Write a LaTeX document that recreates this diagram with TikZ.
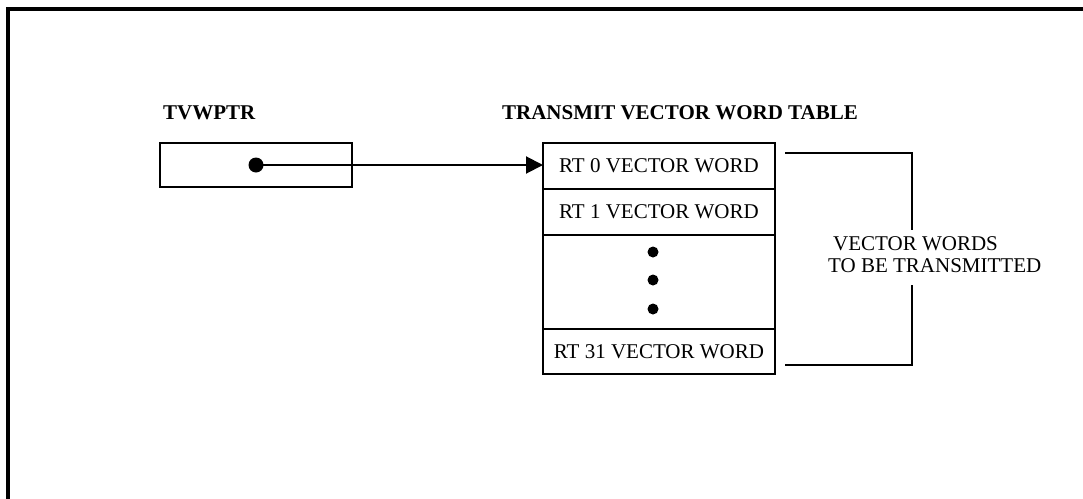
\documentclass[tikz,border=0pt]{standalone}
\usepackage{fontspec}
\setmainfont{Liberation Serif}
\usetikzlibrary{arrows.meta}
\begin{document}
\begin{tikzpicture}[x=1pt,y=-1pt,
  cell/.style={draw,line width=2.5pt,minimum width=232pt,inner sep=0pt,outer sep=0pt,font=\fontsize{21}{24}\selectfont},
  lbl/.style={inner sep=0pt,font=\fontsize{21}{24}\selectfont},
  title/.style={inner sep=0pt,font=\fontsize{21}{24}\selectfont\bfseries},
  conn/.style={line width=2pt},
  dotm/.style={circle,fill=black,inner sep=0pt,minimum size=#1}]
\useasboundingbox (0,0) rectangle (1083,498);
% outer frame
\draw[line width=4.5pt] (8,500) -- (8,9) -- (1085,9);
% titles
\node[title,anchor=west] (tptr) at (163,113) {TVWPTR};
\node[title] (ttab) at (680,113) {TRANSMIT VECTOR WORD TABLE};
% pointer box
\node[draw,line width=2.5pt,minimum width=192pt,minimum height=44pt,inner sep=0pt] (pbox) at (256,165) {};
\node[dotm=15pt] (pdot) at (256,165) {};
% table
\node[cell,minimum height=46pt] (r0) at (659,166) {RT 0 VECTOR WORD};
\node[cell,minimum height=46pt,anchor=north] (r1) at (r0.south) {RT 1 VECTOR WORD};
\node[cell,minimum height=94pt,anchor=north] (rd) at (r1.south) {};
\node[cell,minimum height=45pt,anchor=north] (r31) at (rd.south) {RT 31 VECTOR WORD};
\node[dotm=11pt] (d1) at (653,252) {};
\node[dotm=11pt] (d2) at (653,280) {};
\node[dotm=11pt] (d3) at (653,309) {};
% pointer arrow
\draw[conn,-{Triangle[length=17pt,width=17pt]}] (pdot.center) -- (pdot.center -| r0.west);
% bracket label
\node[lbl,anchor=west] (v1) at (833,244) {VECTOR WORDS};
\node[lbl,anchor=west] (v2) at (828,266) {TO BE TRANSMITTED};
\coordinate (bt) at (785,153);
\coordinate (bb) at (785,365);
\coordinate (bxt) at (912,230);
\coordinate (bxb) at (912,285);
\draw[conn] (bt) -| (bxt);
\draw[conn] (bb) -| (bxb);
\end{tikzpicture}
\end{document}
